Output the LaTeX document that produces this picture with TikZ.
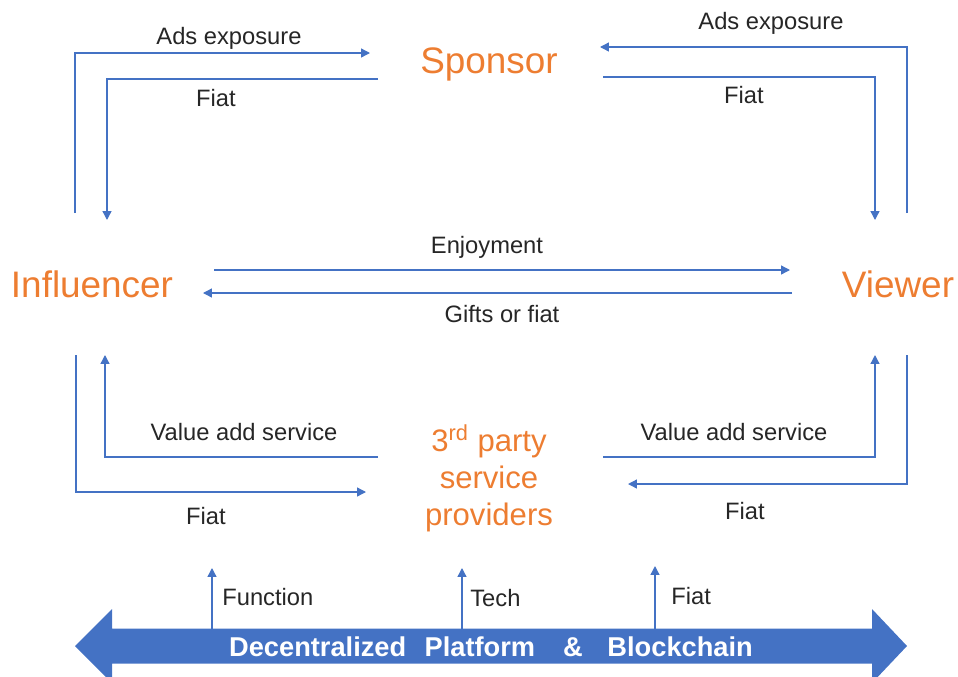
\documentclass[tikz,border=0pt]{standalone}
\usepackage{fontspec}
\setmainfont{Liberation Sans}
\usetikzlibrary{arrows.meta}

\definecolor{actorOrange}{RGB}{237,125,49}
\definecolor{flowBlue}{RGB}{68,114,196}
\definecolor{labelGray}{RGB}{38,38,38}

\begin{document}
\begin{tikzpicture}[
    x=0.02cm, y=-0.02cm,
    actor/.style={text=actorOrange, inner sep=0pt, anchor=base, font=\fontsize{21}{24}\selectfont},
    provider/.style={text=actorOrange, inner sep=0pt, align=center, font=\fontsize{17.7}{21}\selectfont},
    lbl/.style={text=labelGray, inner sep=0pt, anchor=base, font=\fontsize{13.5}{16}\selectfont},
    flow/.style={draw=flowBlue, line width=0.75pt, -{Triangle[length=5pt, width=5pt]}}
]
    \useasboundingbox (0,0) rectangle (958,677);
    \clip (0,0) rectangle (958,677);

    \node[actor] (sponsor) at (489,73) {Sponsor};
    \node[actor] (influencer) at (92,297) {Influencer};
    \node[actor] (viewer) at (898,297) {Viewer};
    \node[provider] (provider) at (489,478) {3\textsuperscript{rd} party\\service\\providers};

    % platform arrow
    \fill[flowBlue] (75,646) -- (112,609) -- (112,628.5) -- (872,628.5) -- (872,609) -- (907,646)
        -- (872,683) -- (872,663.5) -- (112,663.5) -- (112,683) -- cycle;
    \node[text=white, inner sep=0pt, anchor=base, font=\fontsize{15.5}{18}\bfseries] (platform) at (491,656)
        {Decentralized\hspace{10.5pt}Platform\hspace{16pt}\&\hspace{14pt}Blockchain};

    % end points
    \coordinate (adsL0) at (75,213);
    \coordinate (adsL1) at (370,53);
    \coordinate (fiatTL0) at (378,79);
    \coordinate (fiatTL1) at (107,220);
    \coordinate (adsR0) at (907,213);
    \coordinate (adsR1) at (600,47);
    \coordinate (fiatTR0) at (603,77);
    \coordinate (fiatTR1) at (875,220);
    \coordinate (enjoy0) at (214,270);
    \coordinate (enjoy1) at (790,270);
    \coordinate (gift0) at (792,293);
    \coordinate (gift1) at (203,293);
    \coordinate (vasL0) at (378,457);
    \coordinate (vasL1) at (105,355);
    \coordinate (fiatBL0) at (76,355);
    \coordinate (fiatBL1) at (366,492);
    \coordinate (vasR0) at (603,457);
    \coordinate (vasR1) at (875,355);
    \coordinate (fiatBR0) at (907,355);
    \coordinate (fiatBR1) at (628,484);
    \coordinate (func0) at (212,628.5);
    \coordinate (func1) at (212,568);
    \coordinate (tech0) at (462,628.5);
    \coordinate (tech1) at (462,568);
    \coordinate (fiatP0) at (655,628.5);
    \coordinate (fiatP1) at (655,566);

    \draw[flow] (adsL0) |- (adsL1);
    \draw[flow] (fiatTL0) -| (fiatTL1);
    \draw[flow] (adsR0) |- (adsR1);
    \draw[flow] (fiatTR0) -| (fiatTR1);
    \draw[flow] (enjoy0) -- (enjoy1);
    \draw[flow] (gift0) -- (gift1);
    \draw[flow] (vasL0) -| (vasL1);
    \draw[flow] (fiatBL0) |- (fiatBL1);
    \draw[flow] (vasR0) -| (vasR1);
    \draw[flow] (fiatBR0) |- (fiatBR1);
    \draw[flow] (func0) -- (func1);
    \draw[flow] (tech0) -- (tech1);
    \draw[flow] (fiatP0) -- (fiatP1);

    % labels
    \node[lbl] (adsLtext) at (229,44) {Ads exposure};
    \node[lbl] (fiatTLtext) at (216,106) {Fiat};
    \node[lbl] (adsRtext) at (771,29) {Ads exposure};
    \node[lbl] (fiatTRtext) at (744,103) {Fiat};
    \node[lbl] (enjoytext) at (487,253) {Enjoyment};
    \node[lbl] (gifttext) at (502,322) {Gifts or fiat};
    \node[lbl] (vasLtext) at (244,440) {Value add service};
    \node[lbl] (fiatBLtext) at (206,524) {Fiat};
    \node[lbl] (vasRtext) at (734,440) {Value add service};
    \node[lbl] (fiatBRtext) at (745,519) {Fiat};
    \node[lbl, anchor=base west] (functext) at (222,605) {Function};
    \node[lbl, anchor=base west] (techtext) at (470,606) {Tech};
    \node[lbl, anchor=base west] (fiatPtext) at (671,604) {Fiat};

\end{tikzpicture}
\end{document}
